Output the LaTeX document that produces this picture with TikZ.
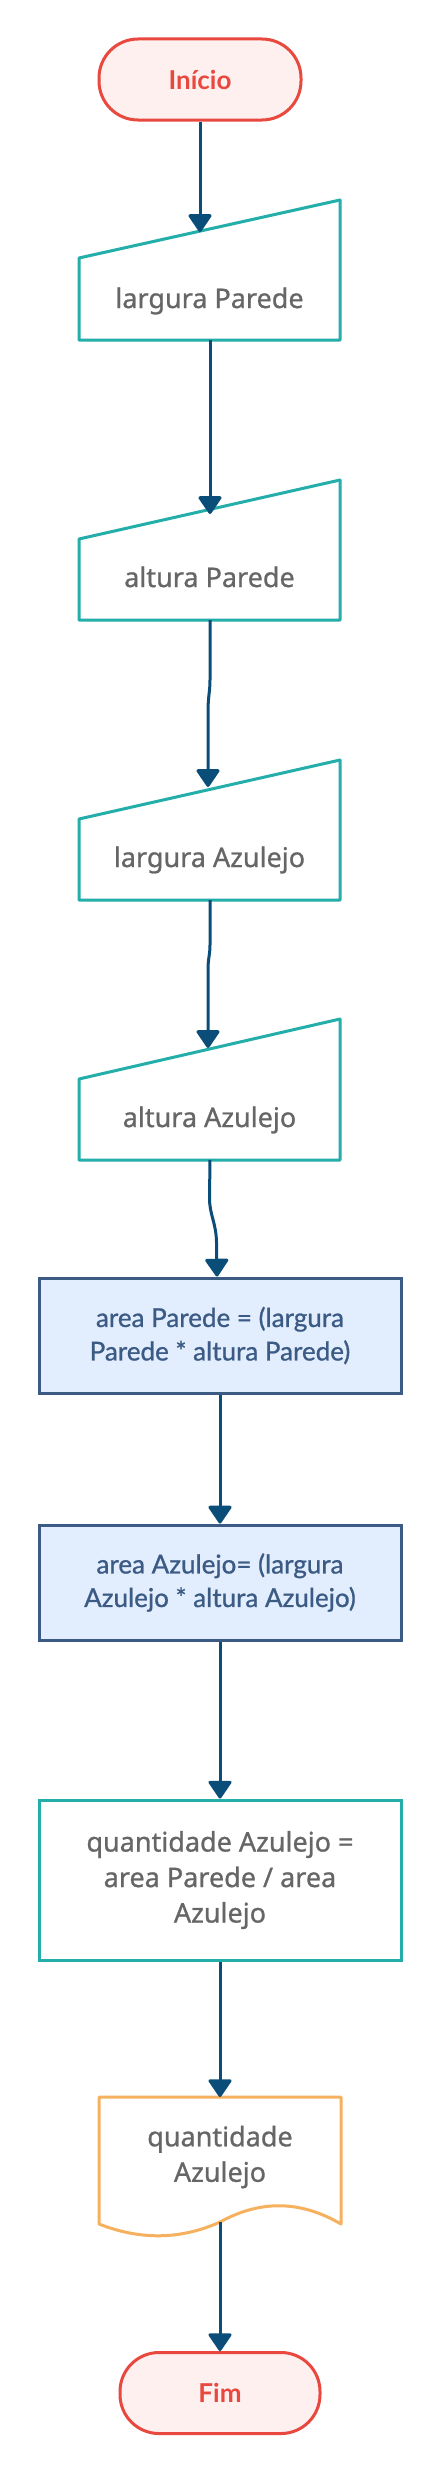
\documentclass[tikz,border=0pt]{standalone}
\usepackage{fontspec}
\setmainfont{Noto Sans}[FakeBold=0.9]
\newfontfamily\latofont{Lato}[FakeBold=0.9]
\newfontfamily\latobold{Lato Bold}
\usetikzlibrary{arrows.meta}
\definecolor{termred}{HTML}{E9483F}
\definecolor{termfill}{HTML}{FEF0EF}
\definecolor{tealline}{HTML}{23AEAA}
\definecolor{arrowblue}{HTML}{0B4D79}
\definecolor{procline}{HTML}{3B5B85}
\definecolor{procfill}{HTML}{E2EDFD}
\definecolor{docorange}{HTML}{F6B15F}
\definecolor{graytext}{HTML}{666666}
\tikzset{
  terminal/.style={draw=termred, fill=termfill, line width=3pt, rounded corners=39pt,
    minimum height=81pt, text=termred, font=\latobold\fontsize{26}{31}\selectfont},
  inshape/.style={draw=tealline, fill=white, line width=3pt, line join=round},
  intext/.style={text=graytext, font=\fontsize{27}{35}\selectfont, anchor=base, inner sep=0pt},
  procbox/.style={draw=procline, fill=procfill, line width=3pt, minimum width=362pt,
    minimum height=115pt, text=procline, align=center,
    font=\latofont\fontsize{26}{33.5}\selectfont},
  calcbox/.style={draw=tealline, fill=white, line width=3pt, minimum width=362pt,
    minimum height=160pt, text=graytext, align=center,
    font=\fontsize{27}{35.5}\selectfont},
  docshape/.style={draw=docorange, fill=white, line width=3pt, line join=round},
  doctext/.style={text=graytext, align=center, font=\fontsize{27}{35.5}\selectfont},
  flow/.style={draw=arrowblue, line width=3pt,
    -{Triangle[width=25pt,length=19pt,round]}}
}
\begin{document}
\begin{tikzpicture}[x=1pt,y=-1pt]
\useasboundingbox[fill=white] (0,0) rectangle (441,2481);

% start
\node[terminal, minimum width=202pt] (start) at (200,79.5) {Início};

% input 1
\draw[inshape] (79,258) -- (340,200) -- (340,340) -- (79,340) -- cycle;
\node[intext] (in1) at (209.5,308) {largura Parede};
\coordinate (in1top) at (200,232);
\coordinate (in1bot) at (210,340);

% input 2
\draw[inshape] (79,539) -- (340,480) -- (340,620) -- (79,620) -- cycle;
\node[intext] (in2) at (209.5,587) {altura Parede};
\coordinate (in2top) at (210,514);
\coordinate (in2bot) at (210,620);

% input 3
\draw[inshape] (79,819) -- (340,760) -- (340,900) -- (79,900) -- cycle;
\node[intext] (in3) at (209.5,867) {largura Azulejo};
\coordinate (in3top) at (208,787);
\coordinate (in3bot) at (210,900);

% input 4
\draw[inshape] (79,1079) -- (340,1019) -- (340,1160) -- (79,1160) -- cycle;
\node[intext] (in4) at (209.5,1127) {altura Azulejo};
\coordinate (in4top) at (208,1048);
\coordinate (in4bot) at (210,1160);

% process boxes
\node[procbox] (pa) at (220,1335.5) {area Parede = (largura\\Parede * altura Parede)};
\node[procbox] (pb) at (220,1582.5) {area Azulejo= (largura\\Azulejo * altura Azulejo)};
\node[calcbox] (pq) at (220,1880) {quantidade Azulejo =\\area Parede / area\\Azulejo};

% document
\draw[docshape] (99,2224) -- (99,2097) -- (341,2097) -- (341,2224)
  .. controls (300,2200) and (260,2200) .. (220,2222)
  .. controls (180,2240) and (140,2240) .. (99,2224) -- cycle;
\node[doctext] (doc) at (220,2157) {quantidade\\Azulejo};
\coordinate (doctop) at (220,2097);
\coordinate (docbot) at (220,2222);

% end
\node[terminal, minimum width=200pt] (fim) at (220,2393) {Fim};

% connectors
\draw[flow] (start.south) -- (in1top);
\draw[flow] (in1bot) -- (in2top);
\draw[flow] (in2bot) -- (210,680) .. controls (210,692) and (208,696) .. (208,712) -- (in3top);
\draw[flow] (in3bot) -- (210,945) .. controls (210,955) and (208,958) .. (208,970) -- (in4top);
\draw[flow] (in4bot) -- (209.5,1198) .. controls (209.5,1215) and (216,1222) .. (216.5,1242) -- ([xshift=-3pt]pa.north);
\draw[flow] (pa.south) -- (pb.north);
\draw[flow] (pb.south) -- (pq.north);
\draw[flow] (pq.south) -- (doctop);
\draw[flow] (docbot) -- (fim.north);
\end{tikzpicture}
\end{document}
